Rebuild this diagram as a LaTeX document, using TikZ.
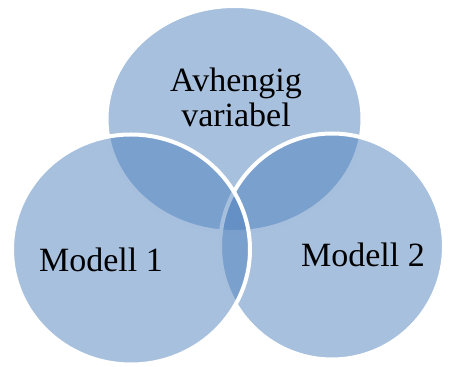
\documentclass[tikz,border=0pt]{standalone}
\usepackage{fontspec}
\setmainfont{Liberation Serif}
\definecolor{vennblue}{HTML}{4F81BD}
\tikzset{
  venn/.style={fill=vennblue, fill opacity=0.5, draw=white, draw opacity=1, line width=2pt},
  label/.style={text=black, font=\fontsize{17}{17.5}\selectfont, align=center, inner sep=0pt}
}

\begin{document}
\begin{tikzpicture}[x=0.5pt,y=-0.5pt]
	%%%%% START %%%%%
	\useasboundingbox (0,0) rectangle (454,367);

	% circles: top, right, left
	\path[venn] (234.5,119) ellipse [x radius=128, y radius=113];
	\path[venn] (332,246.5) ellipse [x radius=112, y radius=113];
	\path[venn] (131,249.5) ellipse [x radius=119, y radius=115];

	% texts
	\node[label] (dep) at (236,97) {Avhengig\\variabel};
	\node[label, anchor=base] (m1) at (101,272) {Modell 1};
	\node[label, anchor=base] (m2) at (363,267) {Modell 2};
	%%%%% END %%%%%
\end{tikzpicture}
\end{document}
